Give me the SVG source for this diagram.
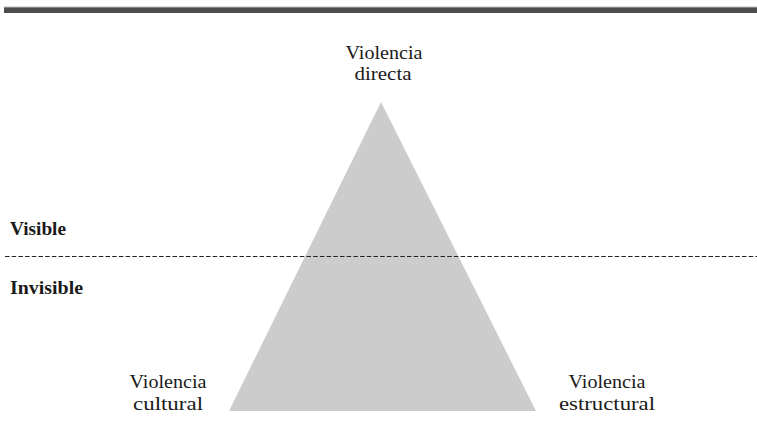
<svg xmlns="http://www.w3.org/2000/svg" width="757" height="443" viewBox="0 0 757 443">
<style>
.t{font-family:"Liberation Serif","DejaVu Serif",serif;font-size:19.5px;fill:#1a1a1a;text-anchor:middle}
.b{font-family:"Liberation Serif","DejaVu Serif",serif;font-size:18px;font-weight:bold;fill:#1a1a1a}
</style>
<rect x="0" y="0" width="757" height="443" fill="#ffffff"/>
<rect x="4" y="7" width="753" height="6" fill="#4d4d4d"/>
<line x1="4" y1="7" x2="757" y2="7" stroke="#bbbbbb" stroke-width="1"/>
<g id="triangle">
<polygon points="381,102 229,411 536,411" fill="#cccccc"/>
</g>
<g id="connectors">
<line x1="5" y1="256.5" x2="757" y2="256.5" stroke="#222222" stroke-width="1" stroke-dasharray="4.5,2.2"/>
</g>
<g id="directa"><text class="t" x="384" y="59" textLength="77" lengthAdjust="spacingAndGlyphs">Violencia</text><text class="t" x="383" y="80" textLength="57" lengthAdjust="spacingAndGlyphs">directa</text></g>
<g id="cultural"><text class="t" x="168" y="388" textLength="77" lengthAdjust="spacingAndGlyphs">Violencia</text><text class="t" x="168" y="410" textLength="70" lengthAdjust="spacingAndGlyphs">cultural</text></g>
<g id="estructural"><text class="t" x="607" y="388" textLength="77" lengthAdjust="spacingAndGlyphs">Violencia</text><text class="t" x="607" y="410" textLength="96" lengthAdjust="spacingAndGlyphs">estructural</text></g>
<g id="visible"><text class="b" x="10" y="235" textLength="56" lengthAdjust="spacingAndGlyphs">Visible</text></g>
<g id="invisible"><text class="b" x="10" y="294" textLength="73" lengthAdjust="spacingAndGlyphs">Invisible</text></g>
</svg>
